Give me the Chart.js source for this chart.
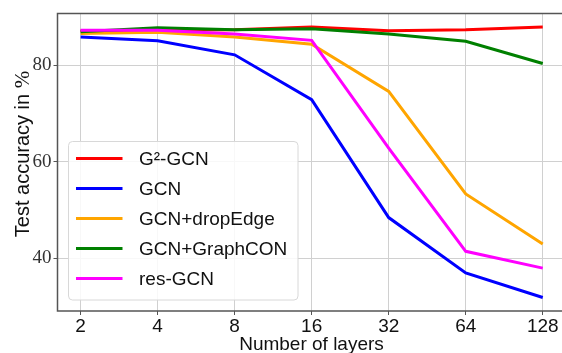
<!DOCTYPE html>
<html>
<head>
<meta charset="utf-8">
<script src="https://cdn.jsdelivr.net/npm/chart.js@4"></script>
<style>
  html, body { margin: 0; padding: 0; background: #fff; }
  #wrap { width: 562px; height: 353px; }
</style>
</head>
<body>
<div id="wrap"><canvas id="chart" width="562" height="353"></canvas></div>
<script>
// data
const layers = ['2', '4', '8', '16', '32', '64', '128'];
const yTicks = [40, 60, 80];
const seriesNames = ['G\u00b2-GCN', 'GCN', 'GCN+dropEdge', 'GCN+GraphCON', 'res-GCN'];
const seriesColors = ['#ff0000', '#0000ff', '#ffa500', '#008000', '#ff00ff'];
const g2gcn     = [87.2, 87.3, 87.4, 88.0, 87.2, 87.4, 88.0];
const gcn       = [85.9, 85.1, 82.2, 72.9, 48.4, 36.9, 31.8];
const dropEdge  = [86.6, 86.9, 85.9, 84.4, 74.6, 53.3, 42.9];
const graphCon  = [87.0, 87.8, 87.4, 87.6, 86.5, 85.0, 80.4];
const resGcn    = [87.3, 87.3, 86.5, 85.2, 62.8, 41.4, 37.9];
const seriesValues = [g2gcn, gcn, dropEdge, graphCon, resGcn];

const SANS = "'Liberation Sans', Arial, sans-serif";
const SERIF = "'Liberation Serif', 'Times New Roman', serif";

// legend + axis titles, drawn by hand so they sit where matplotlib put them
const extras = {
    id: 'extras',
    afterDraw(chart) {
        const ctx = chart.ctx;
        const area = chart.chartArea;
        ctx.save();

        // frame (right side falls outside the canvas)
        ctx.strokeStyle = '#555';
        ctx.lineWidth = 1.5;
        ctx.beginPath();
        ctx.moveTo(area.right + 2, area.top);
        ctx.lineTo(area.left, area.top);
        ctx.lineTo(area.left, area.bottom);
        ctx.lineTo(area.right + 2, area.bottom);
        ctx.stroke();

        // legend box
        const bx = 68.5, by = 141.5, bw = 229.5, bh = 158.5;
        ctx.fillStyle = 'rgba(255,255,255,0.85)';
        ctx.strokeStyle = '#d8d8d8';
        ctx.lineWidth = 1;
        ctx.beginPath();
        ctx.roundRect(bx, by, bw, bh, 4);
        ctx.fill();
        ctx.stroke();

        ctx.font = '19px ' + SANS;
        ctx.textBaseline = 'middle';
        ctx.textAlign = 'left';
        seriesNames.forEach((name, i) => {
            const y = 158.5 + i * 30;
            ctx.strokeStyle = seriesColors[i];
            ctx.lineWidth = 3;
            ctx.beginPath();
            ctx.moveTo(76, y);
            ctx.lineTo(122.5, y);
            ctx.stroke();
            ctx.fillStyle = '#111';
            ctx.fillText(name, 139, y + 1);
        });

        // x title
        ctx.font = '19px ' + SANS;
        ctx.textAlign = 'center';
        ctx.textBaseline = 'alphabetic';
        ctx.fillText('Number of layers', 311.5, 350);

        // y title (sans text, serif %)
        ctx.translate(29, 154);
        ctx.rotate(-Math.PI / 2);
        const part1 = 'Test accuracy in ';
        ctx.font = '20px ' + SANS;
        const w1 = ctx.measureText(part1).width;
        ctx.font = '21px ' + SERIF;
        const w2 = ctx.measureText('%').width;
        const start = -(w1 + w2) / 2;
        ctx.textAlign = 'left';
        ctx.font = '20px ' + SANS;
        ctx.fillText(part1, start, 0);
        ctx.font = '21px ' + SERIF;
        ctx.fillText('%', start + w1, 0);

        ctx.restore();
    }
};

const datasets = seriesNames.map((name, i) => ({
    label: name,
    data: seriesValues[i].map((v, j) => ({ x: j, y: v })),
    borderColor: seriesColors[i],
    backgroundColor: seriesColors[i],
    borderWidth: 3,
    pointRadius: 0,
    tension: 0,
    fill: false,
    order: seriesNames.length - i
}));

new Chart(document.getElementById('chart'), {
    type: 'line',
    data: { datasets },
    plugins: [extras],
    options: {
        responsive: false,
        animation: false,
        layout: { padding: { top: 8, right: 0, left: 0, bottom: 0 } },
        plugins: { legend: { display: false }, tooltip: { enabled: false } },
        scales: {
            x: {
                type: 'linear',
                min: -0.3,
                max: 6.25,
                afterBuildTicks: s => { s.ticks = layers.map((_, i) => ({ value: i })); },
                afterFit: s => { s.height = 42; },
                border: { display: false },
                grid: { color: '#d0d0d0', lineWidth: 1, tickLength: 4, tickColor: '#555' },
                ticks: {
                    autoSkip: false,
                    maxRotation: 0,
                    padding: 0,
                    color: '#111',
                    font: { family: SANS, size: 19 },
                    callback: v => layers[v]
                }
            },
            y: {
                min: 29,
                max: 90.8,
                afterBuildTicks: s => { s.ticks = yTicks.map(v => ({ value: v })); },
                afterFit: s => { s.width = 57.5; },
                border: { display: false },
                grid: { color: '#d0d0d0', lineWidth: 1, tickLength: 4, tickColor: '#555' },
                ticks: {
                    padding: 2,
                    color: '#333',
                    font: { family: SERIF, size: 19 }
                }
            }
        }
    }
});
</script>
</body>
</html>
